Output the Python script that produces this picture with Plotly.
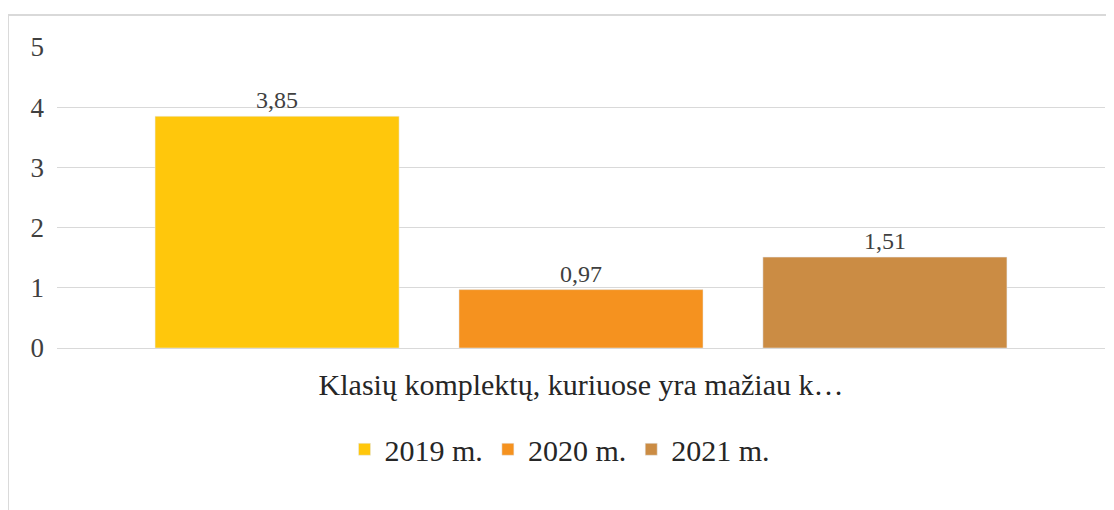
import plotly.graph_objects as go

categories = ["Klasių komplektų, kuriuose yra mažiau k…"]
series_names = ["2019 m.", "2020 m.", "2021 m."]
series_values = [[3.85], [0.97], [1.51]]
series_colors = ["#FFC70C", "#F5921F", "#CB8C44"]
y_ticks = [0, 1, 2, 3, 4, 5]

fig = go.Figure()
for name, vals, col in zip(series_names, series_values, series_colors):
    fig.add_trace(go.Bar(
        x=categories, y=vals, name=name, marker_color=col,
        text=[f"{v:.2f}".replace(".", ",") for v in vals],
        textposition="outside", cliponaxis=False,
        textfont=dict(family="Liberation Serif", size=24, color="#404040"),
    ))

fig.update_layout(
    width=1106, height=502,
    margin=dict(l=49, r=9, t=39, b=162),
    paper_bgcolor="white", plot_bgcolor="white",
    barmode="group", bargap=0.13, bargroupgap=0.197,
    separators=", ",
    font=dict(family="Liberation Serif", color="#404040"),
    yaxis=dict(range=[0, 5], tickvals=y_ticks, showgrid=True, gridcolor="#D9D9D9",
               gridwidth=1, zeroline=False, showline=False,
               tickfont=dict(size=27, color="#404040"), ticklabelstandoff=12),
    xaxis=dict(showline=True, linecolor="#D9D9D9", linewidth=1, ticks="",
               tickfont=dict(size=30, color="#262626"), ticklabelstandoff=10),
    legend=dict(orientation="h", x=0.48, xanchor="center", y=-0.25, yanchor="top",
                font=dict(size=30, color="#262626"), itemwidth=30),
    showlegend=True,
    shapes=[
        dict(type="line", xref="paper", yref="paper", x0=-0.0468, x1=1.006,
             y0=1.106, y1=1.106, line=dict(color="#D9D9D9", width=2)),
        dict(type="line", xref="paper", yref="paper", x0=-0.0468, x1=-0.0468,
             y0=1.106, y1=-0.6, line=dict(color="#D9D9D9", width=2)),
    ],
)

fig.write_html("out.html")
